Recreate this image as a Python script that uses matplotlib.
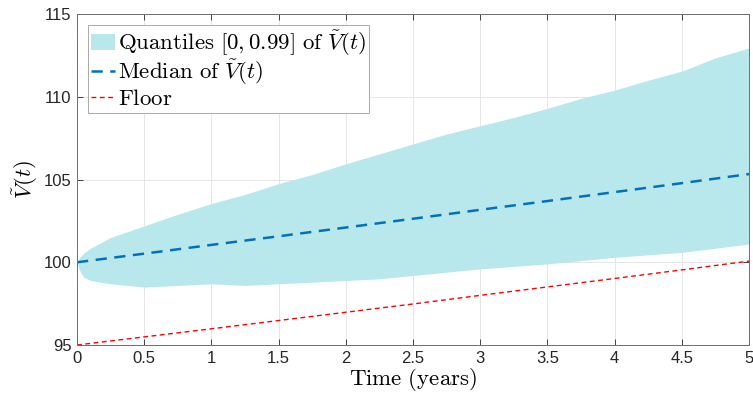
import numpy as np
import matplotlib
matplotlib.use("Agg")
import matplotlib.pyplot as plt

plt.rcParams["mathtext.fontset"] = "cm"
plt.rcParams["font.family"] = ["Liberation Sans", "DejaVu Sans"]

# time grid for the quantile band (years)
t_band = [0, 0.02, 0.05, 0.1, 0.17, 0.25, 0.5, 0.75, 1.0, 1.25, 1.5, 1.75,
          2.0, 2.25, 2.5, 2.75, 3.0, 3.25, 3.5, 3.75, 4.0, 4.25, 4.5, 4.75, 5.0]
upper_q = [100.0, 100.3, 100.55, 100.85, 101.15, 101.5, 102.2, 102.9, 103.55,
           104.1, 104.75, 105.3, 105.95, 106.55, 107.15, 107.75, 108.25,
           108.75, 109.3, 109.9, 110.4, 111.0, 111.55, 112.35, 112.95]
lower_q = [100.0, 99.5, 99.1, 98.9, 98.8, 98.7, 98.5, 98.6, 98.7, 98.6, 98.7,
           98.8, 98.9, 99.0, 99.2, 99.4, 99.6, 99.75, 99.9, 100.1, 100.3,
           100.45, 100.6, 100.85, 101.1]

# median and floor
t_line = [0, 0.5, 1.0, 1.5, 2.0, 2.5, 3.0, 3.5, 4.0, 4.5, 5.0]
median = [100.0, 100.52, 101.05, 101.57, 102.1, 102.63, 103.17, 103.7,
          104.24, 104.78, 105.33]
floor = [95.0, 95.49, 95.98, 96.48, 96.98, 97.48, 98.0, 98.51, 99.02,
         99.54, 100.07]

fig = plt.figure(figsize=(7.53, 3.99), dpi=100)
ax = fig.add_axes([0.1023, 0.1353, 0.8924, 0.8296])

ax.fill_between(t_band, lower_q, upper_q, color="#b8e8ec", linewidth=0,
                label=r"$\mathrm{Quantiles}\ [0,0.99]\ \mathrm{of}\ \tilde{V}(t)$")
ax.plot(t_line, median, color="#0072bd", lw=1.8, dashes=(4.5, 3),
        label=r"$\mathrm{Median\ of}\ \tilde{V}(t)$")
ax.plot(t_line, floor, color="#ff0000", lw=1.0, dashes=(3.5, 2.5),
        label=r"$\mathrm{Floor}$")

ax.set_xlim(0, 5)
ax.set_ylim(95, 115)
ax.set_xticks(np.arange(0, 5.01, 0.5))
ax.set_xticklabels(["0", "0.5", "1", "1.5", "2", "2.5", "3", "3.5", "4", "4.5", "5"])
ax.set_yticks([95, 100, 105, 110, 115])

ax.grid(True, color="#e6e6e6", lw=0.7)
ax.set_axisbelow(True)
ax.tick_params(direction="in", top=True, right=True, labelsize=12,
               length=4, width=0.6, colors="#262626", pad=4)
for s in ax.spines.values():
    s.set_color("#6e6e6e")
    s.set_linewidth(0.7)

ax.set_xlabel(r"$\mathrm{Time\ (years)}$", fontsize=16.5, labelpad=0)
ax.set_ylabel(r"$\tilde{V}(t)$", fontsize=16.5, labelpad=3)

leg = ax.legend(loc="upper left", fontsize=16.5, fancybox=False, framealpha=1,
                edgecolor="#aaaaaa", handlelength=1.05, handletextpad=0.1,
                borderaxespad=0.5, borderpad=0.12, labelspacing=0.0)
leg.get_frame().set_linewidth(0.7)

fig.savefig("out.png", dpi=100)
